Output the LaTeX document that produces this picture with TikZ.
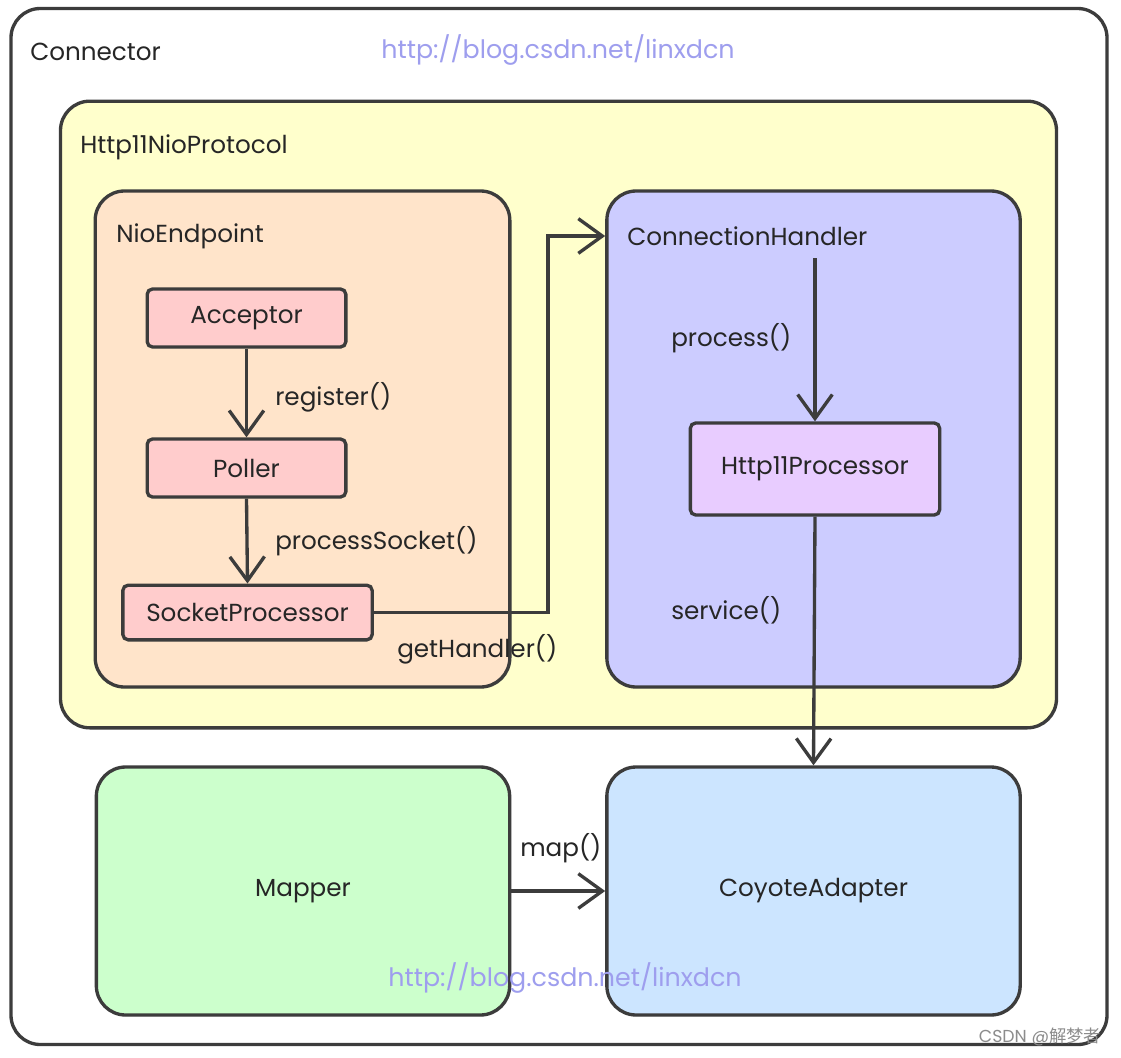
\documentclass[tikz,border=0pt]{standalone}
\usepackage{fontspec}
\setmainfont{Poppins}
\newfontfamily\cjkfont{Noto Sans CJK SC}
\usetikzlibrary{arrows.meta,shadows}
\definecolor{edge}{HTML}{3C3C3C}
\definecolor{cyellow}{HTML}{FFFFCC}
\definecolor{cpeach}{HTML}{FFE4CA}
\definecolor{cpink}{HTML}{FFCCCC}
\definecolor{clav}{HTML}{CCCCFF}
\definecolor{cviolet}{HTML}{E8CCFF}
\definecolor{cgreen}{HTML}{CCFFCC}
\definecolor{cblue}{HTML}{CCE5FF}
\definecolor{curl}{HTML}{9E9EEE}
\tikzset{
  box/.style={draw=edge, line width=2.5pt, rounded corners=22pt, inner sep=0pt,
    drop shadow={shadow xshift=1pt, shadow yshift=-1pt, opacity=0.25}},
  small/.style={draw=edge, line width=2.5pt, rounded corners=4pt, inner sep=0pt,
    drop shadow={shadow xshift=1pt, shadow yshift=-1pt, opacity=0.25}},
  txt/.style={font=\fontsize{18.5}{22}\selectfont, text=black!85, inner sep=0pt},
  title/.style={txt, anchor=west},
  url/.style={font=\fontsize{19}{22}\selectfont, text=curl, inner sep=0pt},
  arr/.style={draw=edge, line width=2.5pt, -{Straight Barb[length=18pt,width=26pt,line width=2.5pt]}}
}
\begin{document}
\begin{tikzpicture}[x=0.75pt,y=-0.75pt]
\useasboundingbox (0,0) rectangle (1121,1057);
% boxes
\node[box, fill=white, minimum width=822pt, minimum height=777pt] (conn) at (559,526.5) {};
\node[box, fill=cyellow, minimum width=747pt, minimum height=470pt] (proto) at (558.5,414.5) {};
\node[box, fill=cpeach, minimum width=311pt, minimum height=372pt] (nio) at (302.5,439) {};
\node[box, fill=clav, minimum width=310pt, minimum height=372pt] (ch) at (813.5,439) {};
\node[box, fill=cgreen, minimum width=310pt, minimum height=186pt] (mapper) at (303,891) {};
\node[box, fill=cblue, minimum width=310pt, minimum height=186pt] (ca) at (813.5,891) {};
\node[small, fill=cpink, minimum width=149pt, minimum height=43.5pt] (acc) at (246.5,318) {};
\node[small, fill=cpink, minimum width=149pt, minimum height=43.5pt] (poll) at (246.5,468) {};
\node[small, fill=cpink, minimum width=187pt, minimum height=41pt] (sp) at (247.5,612.5) {};
\node[small, fill=cviolet, minimum width=187pt, minimum height=69pt] (hp) at (815,469) {};
% titles
\node[title] (tconn) at (30,52) {Connector};
\node[title] (tproto) at (80,147) {Http11NioProtocol};
\node[title] (tnio) at (116,236) {NioEndpoint};
\node[title] (tch) at (627,236) {ConnectionHandler};
\node[txt] (tacc) at (acc.center) {Acceptor};
\node[txt] (tpoll) at (poll.center) {Poller};
\node[txt] (tsp) at (sp.center) {SocketProcessor};
\node[txt] (thp) at (hp.center) {Http11Processor};
\node[txt] (tmap) at (mapper.center) {Mapper};
\node[txt] (tca) at (ca.center) {CoyoteAdapter};
% connectors
\coordinate (bend) at (548,236);
\coordinate (chin) at (ch.west |- bend);
\coordinate (chstart) at (815,258);
\draw[arr] (acc.south) -- (poll.north);
\draw[arr] (poll.south) -- (sp.north);
\draw[arr] (sp.east) -| (bend) -- (chin);
\draw[arr] (chstart) -- (hp.north);
\draw[arr] (hp.south) -- (ca.north);
\draw[arr] (mapper.east) -- (ca.west);
% labels
\node[title] (lreg) at (275,397) {register()};
\node[title] (lps) at (275,541) {processSocket()};
\node[title] (lgh) at (397,649) {getHandler()};
\node[title] (lproc) at (671,338) {process()};
\node[title] (lserv) at (671,610) {service()};
\node[title] (lmap) at (520,848) {map()};
% watermarks
\node[url] (url1) at (558,50) {http://blog.csdn.net/linxdcn};
\node[url] (url2) at (565,978) {http://blog.csdn.net/linxdcn};
\node[font=\fontsize{13}{15}\selectfont, text=black!45, inner sep=0pt] (csdn) at (1040,1037) {CSDN @{\cjkfont 解梦者}};
\end{tikzpicture}
\end{document}
